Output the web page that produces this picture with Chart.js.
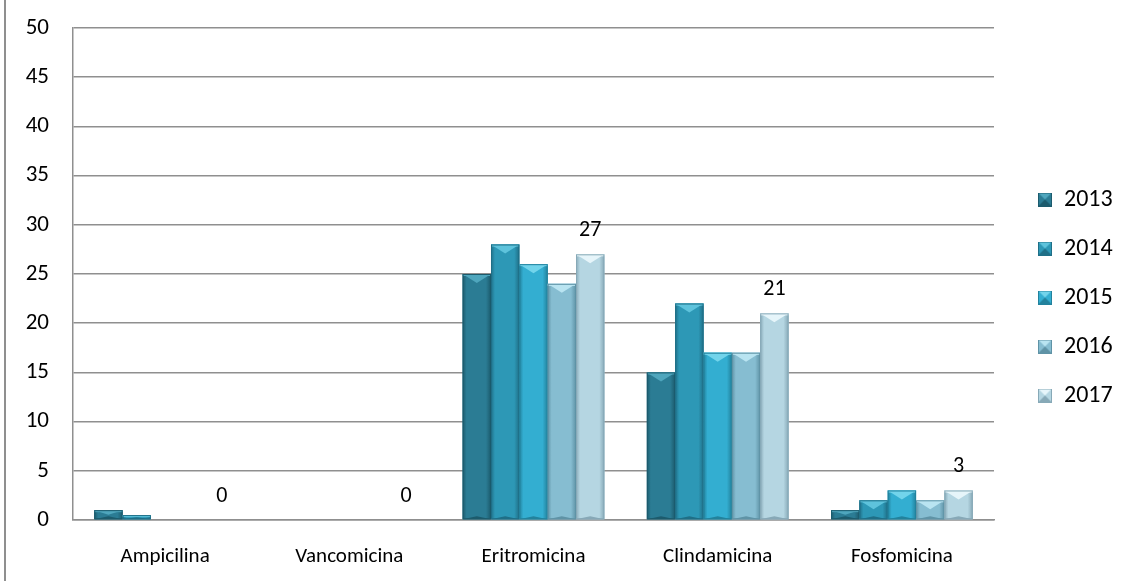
<!DOCTYPE html>
<html>
<head>
<meta charset="utf-8">
<script src="https://cdn.jsdelivr.net/npm/chart.js@4/dist/chart.umd.min.js"></script>
<style>
  html, body { margin: 0; padding: 0; background: #fff; }
  #wrap { position: relative; width: 1129px; height: 581px; overflow: hidden; }
  #frame { position: absolute; left: 4px; top: 0; height: 581px; border-left: 2px solid #8f8f8f; }
  #c { position: absolute; left: 0; top: 0; }
</style>
</head>
<body>
<div id="wrap">
  <div id="frame"></div>
  <canvas id="c" width="1129" height="581"></canvas>
</div>
<script>
// Antibiotics tested and the yearly counts
const categories = ['Ampicilina', 'Vancomicina', 'Eritromicina', 'Clindamicina', 'Fosfomicina'];
const years = ['2013', '2014', '2015', '2016', '2017'];
const v2013 = [1, 0, 25, 15, 1];
const v2014 = [0.5, 0, 28, 22, 2];
const v2015 = [0, 0, 26, 17, 3];
const v2016 = [0, 0, 24, 17, 2];
const v2017 = [0, 0, 27, 21, 3];
const yTicks = [0, 5, 10, 15, 20, 25, 30, 35, 40, 45, 50];

// base / highlight / shadow tones for each year
const palette = [
  { base: '#2b7c94', light: '#4fa6bd', dark: '#1c5b6d' },
  { base: '#2d98b6', light: '#5ec3dc', dark: '#1f6f87' },
  { base: '#33aed1', light: '#72d4eb', dark: '#22829d' },
  { base: '#86bdd1', light: '#b9e4f1', dark: '#5f93a6' },
  { base: '#b5d6e2', light: '#e6f5fa', dark: '#87a9b7' }
];

const FONT = "Carlito, Calibri, Lato, 'Liberation Sans', sans-serif";
const LEGEND_WIDTH = 135;
const LEGEND_SHIFT_X = 19;
const LEGEND_SHIFT_Y = -7;
const LEGEND_FONT = 24;

function drawBevel(ctx, x, y, w, h, c) {
  if (h <= 0.5 || w <= 0) return;
  const b = Math.min(9, h / 2, w / 2);
  ctx.save();
  // body with soft horizontal shading
  const g = ctx.createLinearGradient(x, 0, x + w, 0);
  g.addColorStop(0, c.dark);
  g.addColorStop(0.14, c.base);
  g.addColorStop(0.82, c.base);
  g.addColorStop(1, c.dark);
  ctx.fillStyle = g;
  ctx.fillRect(x, y, w, h);
  // light band along the top edge
  ctx.fillStyle = c.light;
  ctx.fillRect(x, y, w, Math.min(2, h));
  // V-shaped top facet
  ctx.beginPath();
  ctx.moveTo(x, y);
  ctx.lineTo(x + w, y);
  ctx.lineTo(x + w / 2, y + b);
  ctx.closePath();
  ctx.fill();
  // darker bottom facet
  const bb = Math.min(b, 3);
  ctx.beginPath();
  ctx.moveTo(x, y + h);
  ctx.lineTo(x + w, y + h);
  ctx.lineTo(x + w / 2, y + h - bb);
  ctx.closePath();
  ctx.fillStyle = c.dark;
  ctx.fill();
  // outline
  ctx.strokeStyle = c.dark;
  ctx.lineWidth = 1;
  ctx.strokeRect(x + 0.5, y + 0.5, w - 1, h - 1);
  ctx.restore();
}

function legendSwatch(c) {
  const cv = document.createElement('canvas');
  cv.width = 14; cv.height = 14;
  const cx = cv.getContext('2d');
  cx.fillStyle = c.base;
  cx.fillRect(0, 0, 14, 14);
  cx.beginPath();
  cx.moveTo(0, 0); cx.lineTo(14, 0); cx.lineTo(7, 7); cx.closePath();
  cx.fillStyle = c.light; cx.fill();
  cx.beginPath();
  cx.moveTo(0, 14); cx.lineTo(14, 14); cx.lineTo(7, 7); cx.closePath();
  cx.fillStyle = c.dark; cx.fill();
  cx.strokeStyle = c.dark; cx.lineWidth = 1;
  cx.strokeRect(0.5, 0.5, 13, 13);
  return cv;
}

const seriesValues = [v2013, v2014, v2015, v2016, v2017];
const datasets = years.map((yr, i) => ({
  label: yr,
  data: seriesValues[i],
  backgroundColor: palette[i].base,
  borderWidth: 0,
  categoryPercentage: 1 / 1.3,
  barPercentage: 1.0,
  pointStyle: legendSwatch(palette[i])
}));

// fixed legend width, with the entries nudged right of the plot and slightly up
const legendWidthPlugin = {
  id: 'legendWidth',
  beforeLayout(chart) {
    const lg = chart.legend;
    if (lg && !lg._fixedFit) {
      const orig = lg.fit.bind(lg);
      lg.fit = function () { orig(); this.width = LEGEND_WIDTH; };
      lg._fixedFit = true;
    }
  },
  afterLayout(chart) {
    const lg = chart.legend;
    if (lg) {
      lg.left += LEGEND_SHIFT_X; lg.right += LEGEND_SHIFT_X;
      lg.top += LEGEND_SHIFT_Y; lg.bottom += LEGEND_SHIFT_Y;
    }
  }
};

const bevelPlugin = {
  id: 'bevel',
  afterDatasetsDraw(chart) {
    const ctx = chart.ctx;
    chart.data.datasets.forEach((ds, i) => {
      const meta = chart.getDatasetMeta(i);
      meta.data.forEach(el => {
        const w = el.width;
        const top = Math.min(el.y, el.base);
        const h = Math.abs(el.base - el.y);
        drawBevel(ctx, el.x - w / 2, top, w, h, palette[i]);
      });
    });
    // value labels on the last year's bars
    const last = chart.data.datasets.length - 1;
    const meta = chart.getDatasetMeta(last);
    ctx.save();
    ctx.font = '22px ' + FONT;
    ctx.fillStyle = '#000';
    ctx.textAlign = 'center';
    ctx.textBaseline = 'middle';
    meta.data.forEach((el, j) => {
      ctx.fillText(String(chart.data.datasets[last].data[j]), el.x, el.y - 24);
    });
    ctx.restore();
  }
};

new Chart(document.getElementById('c'), {
  type: 'bar',
  data: { labels: categories, datasets },
  options: {
    responsive: false,
    animation: false,
    layout: { padding: { left: 0, top: 28, right: 0, bottom: 0 } },
    plugins: {
      tooltip: { enabled: false },
      legend: {
        position: 'right',
        labels: {
          usePointStyle: true,
          boxWidth: 14,
          boxHeight: 14,
          padding: 49 - LEGEND_FONT,
          color: '#000',
          font: { family: FONT, size: LEGEND_FONT }
        }
      }
    },
    scales: {
      x: {
        afterFit(scale) { scale.height = 61; },
        grid: { display: false, drawTicks: false },
        border: { display: true, color: '#8f8f8f', width: 1.5 },
        ticks: { color: '#000', padding: 24, font: { family: FONT, size: 21 } }
      },
      y: {
        min: 0,
        max: 50,
        afterFit(scale) { scale.width = 73; scale.paddingTop = 0; scale.paddingBottom = 0; },
        afterBuildTicks(scale) { scale.ticks = yTicks.map(v => ({ value: v })); },
        grid: { color: '#8f8f8f', lineWidth: 1.5, drawTicks: false },
        border: { display: true, color: '#8f8f8f', width: 1.5 },
        ticks: { color: '#000', padding: 24, font: { family: FONT, size: 23 } }
      }
    }
  },
  plugins: [legendWidthPlugin, bevelPlugin]
});
</script>
</body>
</html>
